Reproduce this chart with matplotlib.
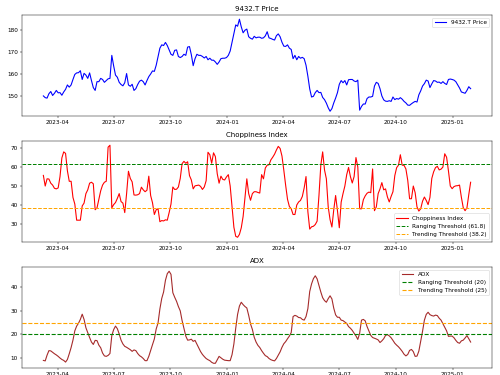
import matplotlib
matplotlib.use('Agg')
import matplotlib.pyplot as plt
import pandas as pd

dates = pd.date_range('2023-03-09', periods=232, freq='3D')

price = [
    150, 149.2, 149, 151, 152, 150.2, 151.2, 152.5, 151.4, 151.5,
    150.3, 151.8, 153, 155, 154, 155, 157.5, 159.8, 160.5, 160.6,
    161.5, 157.5, 160.3, 159.5, 158, 160.5, 157, 153.8, 152.5, 156.5,
    156.5, 158, 157.5, 156.2, 157, 157.8, 158, 168.5, 163.7, 159.5,
    158.5, 156.2, 155.2, 154.6, 156, 160.2, 155, 154.4, 155.3, 152.5,
    153.3, 155.2, 156.7, 157.2, 156.5, 155, 157, 158.8, 160, 161.4,
    161.2, 164, 168, 171.8, 173.3, 173, 174.4, 173, 171, 169,
    168.5, 170.8, 171, 168, 167.5, 168, 169, 168.5, 172.3, 172.5,
    168.8, 163.8, 167, 169, 168.5, 168.5, 168, 167.3, 168, 166.5,
    167.2, 166.3, 166.3, 165.5, 164.4, 165.5, 167, 167.2, 167.2, 167.5,
    168.5, 170.5, 174.5, 178.5, 182.4, 181.8, 185, 181.5, 178.8, 180,
    180.5, 177, 176.3, 175.9, 177.2, 176.5, 176.8, 176.8, 176.3, 176.5,
    177.4, 179.3, 176.5, 176.2, 175.8, 175.5, 177.5, 178.3, 177, 174.5,
    172.7, 172.6, 173.3, 171.8, 171.2, 167, 168.5, 166.5, 168, 167.2,
    167.6, 167, 164, 159, 153.2, 149.5, 149.8, 151.5, 152.5, 151.5,
    151.6, 149.3, 148.3, 146.7, 144.6, 143, 144.2, 146.8, 149, 151.5,
    155.3, 157, 156, 157, 155, 157.4, 157.5, 157.5, 156.8, 156.5,
    157.2, 143.5, 145.2, 146.3, 146.3, 148.8, 149.5, 149.5, 149.8, 154.5,
    156.2, 155.7, 153.3, 150, 148.2, 147.6, 147.5, 147.8, 147.5, 149.5,
    148.3, 148.8, 148.5, 149.2, 148.5, 147.5, 146.8, 145.8, 145.7, 146.4,
    147, 147.5, 147.2, 150.5, 152.3, 154.5, 155.6, 157.2, 156.8, 153.8,
    155.5, 157, 156.8, 156.2, 156.3, 155.7, 156.5, 155.7, 155.2, 157.5,
    157.7, 157.5, 157.2, 156.5, 155, 153.6, 151.8, 151.5, 151.2, 152.5,
    154.2, 153.3,
]

chop = [
    55.6, 50, 53.8, 53.7, 51.5, 50.5, 48.8, 48.5, 49, 55,
    64.8, 68, 67.2, 58, 52.5, 52.5, 44, 40.5, 32, 32,
    32, 39.5, 41, 46, 48, 51.5, 52, 51.2, 37.5, 38.5,
    43, 47.5, 50.5, 52, 52.5, 70.5, 71.5, 38.5, 40.2, 41.3,
    43.5, 46, 41.8, 41, 36, 46, 57.8, 54, 52.2, 45.3,
    45.2, 45.4, 46, 49.4, 48, 47, 47.8, 55.2, 45, 41.2,
    35, 37.5, 38, 31.2, 31.8, 31.6, 32.2, 32, 36, 40.5,
    49.5, 48.2, 48.3, 49.5, 54, 61.8, 63, 62, 62.8, 55.5,
    53.2, 48.5, 50.1, 50.3, 50.5, 49.8, 48.2, 49.5, 52.8, 67.8,
    66.5, 62, 67.5, 65.5, 56.5, 51.5, 55.2, 53.5, 53.2, 54.8,
    56, 50, 39, 28.3, 23.5, 23, 24.5, 28, 34, 44,
    53.8, 46, 42.5, 46, 47, 47, 46.6, 46.3, 56, 53.8,
    59.5, 61, 61.2, 63.8, 65.2, 66.8, 69, 70.9, 69.8, 65.8,
    58.3, 50.3, 43, 39.2, 38, 35, 35, 40, 41.6, 42.4,
    44.5, 49, 55, 36.5, 27.3, 28.5, 28.8, 29.7, 31.5, 45,
    61, 68, 58.5, 53.8, 39, 32.3, 28.4, 37.5, 45, 37,
    28, 41.5, 46, 50, 56, 59.8, 55, 51.6, 55, 65,
    60, 38, 38, 42.8, 44.8, 46.2, 46.8, 46.5, 59, 37,
    39, 46, 48.5, 51.8, 48, 48.5, 44.3, 41.6, 44.5, 47,
    55.5, 59.7, 61, 66.5, 61, 60.9, 59, 53, 43.3, 43.3,
    50, 46.5, 39, 36.8, 38, 42, 44.2, 42.4, 40.2, 44,
    54, 57.5, 59.7, 60.4, 58.5, 58.9, 60, 67, 65.2, 58,
    50, 48.6, 49.7, 50.1, 50.2, 50.5, 44, 38.6, 37, 38.5,
    45.5, 52,
]

adx = [
    9.1, 8.9, 11.3, 13.2, 13.1, 12.5, 11.9, 11.4, 10.8, 10.1,
    9.5, 9.1, 8.4, 9.5, 11.9, 14.5, 17.6, 21.5, 23.5, 24.7,
    26.3, 28.5, 26.3, 22.8, 20.7, 18.7, 16.8, 15.8, 17.5, 17.4,
    15.5, 14.4, 12.2, 11, 10.8, 11.2, 12, 19.5, 22, 23.5,
    22.4, 20.2, 17.6, 16, 15, 14.6, 14.1, 13.6, 12.9, 13.5,
    13.2, 12, 11.1, 10.6, 9.9, 9, 9, 10.8, 13.3, 15.7,
    18.1, 22.3, 24.8, 30.7, 35.1, 37.8, 42.7, 45.5, 46.5, 45.2,
    37.5, 35.6, 33.9, 31.7, 29.9, 25.8, 22.6, 19.3, 17.6, 17.7,
    18, 17.1, 17.5, 15.9, 14.3, 12.8, 11.6, 10.7, 9.9, 9.4,
    9, 8.3, 7.9, 7.9, 9.4, 10.8, 10.2, 9.6, 9.2, 9.1,
    9, 9, 11.5, 16, 22.6, 28.4, 31.9, 33.5, 32.5, 31.7,
    31.1, 28, 24.4, 22.1, 18.8, 16.8, 15.4, 14.5, 13.2, 12.1,
    11.1, 10.7, 9.9, 9.4, 9.1, 8.9, 9.9, 11.3, 12.7, 14.6,
    16.1, 17, 18.2, 19.3, 20.8, 27.5, 28, 27.7, 27.1, 27,
    26.3, 26, 27.5, 30.8, 38, 41.2, 43.4, 44.6, 43.3, 40.6,
    37.8, 35.4, 34.2, 33.5, 35, 36.2, 34.9, 31, 28.2, 27.2,
    27.2, 26, 25.8, 25.2, 24.6, 23.3, 22.6, 21.7, 20.5, 19.4,
    17.9, 20.5, 26, 26.3, 25.7, 23.3, 21.4, 19.6, 18.7, 18.4,
    18.1, 17.7, 16.6, 17.3, 18.2, 19.6, 19.9, 19.4, 18.6, 17.5,
    16.3, 15.5, 14.8, 13.9, 12.9, 11.7, 11, 11.6, 13.3, 13.7,
    12.8, 10.8, 10.9, 13, 17.1, 21.3, 26, 28.4, 29.3, 28.3,
    27.9, 27.7, 28.1, 27.9, 26.8, 26, 24.5, 22.9, 21.5, 19.2,
    19.3, 19.3, 18.6, 17.5, 16.6, 16.3, 17.3, 17.6, 18.5, 19.5,
    18.2, 16.8,
]

ticker = '9432.T'
chop_ranging, chop_trending = 61.8, 38.2
adx_ranging, adx_trending = 20, 25

fig, (ax1, ax2, ax3) = plt.subplots(3, 1, figsize=(12, 9))
fig.subplots_adjust(left=0.044, right=0.984, top=0.961, bottom=0.019, hspace=0.245)

ax1.plot(dates, price, color='blue', linewidth=1.9, label=f'{ticker} Price')
ax1.set_title(f'{ticker} Price')
ax1.legend(loc='upper right')

ax2.plot(dates, chop, color='red', linewidth=1.9, label='Choppiness Index')
ax2.axhline(chop_ranging, color='green', linestyle='--', linewidth=1.7, label=f'Ranging Threshold ({chop_ranging})')
ax2.axhline(chop_trending, color='orange', linestyle='--', linewidth=1.7, label=f'Trending Threshold ({chop_trending})')
ax2.set_title('Choppiness Index')
ax2.legend(loc='lower right')

ax3.plot(dates, adx, color='brown', linewidth=1.9, label='ADX')
ax3.axhline(adx_ranging, color='green', linestyle='--', linewidth=1.9, label=f'Ranging Threshold ({adx_ranging})')
ax3.axhline(adx_trending, color='orange', linestyle='--', linewidth=1.9, label=f'Trending Threshold ({adx_trending})')
ax3.set_title('ADX')
ax3.legend(loc='upper right')

fig.savefig('out.png', dpi=500 / 12)
